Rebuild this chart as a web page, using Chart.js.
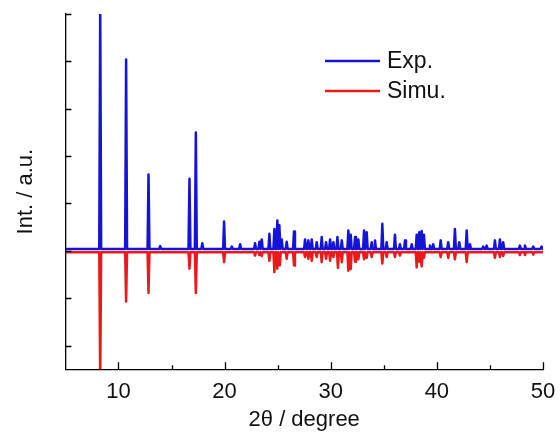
<!DOCTYPE html>
<html>
<head>
<meta charset="utf-8">
<script src="https://cdn.jsdelivr.net/npm/chart.js@4"></script>
<style>
  body { margin: 0; background: #fff; }
  canvas { display: block; }
</style>
</head>
<body>
<canvas id="chart" width="560" height="445"></canvas>
<script>
// peak positions (2theta) and heights above each baseline
const expPeakPos = [8.28, 10.72, 12.83, 13.93, 16.69, 17.29, 17.9, 19.95, 20.68, 21.46, 22.87, 23.28, 23.5, 24.22, 24.69, 24.97, 25.16, 25.38, 25.85, 26.54, 27.58, 27.89, 28.21, 28.68, 29.15, 29.56, 29.94, 30.25, 30.63, 31.04, 31.66, 31.88, 32.29, 32.6, 33.14, 33.39, 33.86, 34.17, 34.86, 35.27, 36.05, 36.52, 37.0, 37.63, 38.1, 38.34, 38.57, 38.78, 39.35, 39.66, 40.36, 41.07, 41.7, 42.11, 42.81, 43.12, 44.37, 44.69, 45.47, 45.94, 46.25, 47.82, 48.3, 49.08, 49.87];
const expPeakInt = [5.1, 4.0, 1.57, 0.06, 1.48, 2.46, 0.12, 0.58, 0.05, 0.1, 0.12, 0.15, 0.2, 0.32, 0.42, 0.6, 0.5, 0.2, 0.15, 0.37, 0.2, 0.18, 0.2, 0.14, 0.25, 0.14, 0.2, 0.14, 0.25, 0.18, 0.39, 0.3, 0.25, 0.2, 0.39, 0.35, 0.14, 0.18, 0.53, 0.14, 0.3, 0.1, 0.18, 0.1, 0.3, 0.35, 0.38, 0.3, 0.07, 0.1, 0.18, 0.14, 0.42, 0.14, 0.39, 0.1, 0.05, 0.07, 0.18, 0.2, 0.14, 0.07, 0.07, 0.05, 0.05];
const expBase = 0.04;

const simPeakPos = [8.28, 10.72, 12.83, 16.69, 17.29, 19.95, 22.87, 23.28, 23.5, 24.22, 24.69, 24.97, 25.2, 25.85, 26.54, 27.58, 27.89, 28.21, 28.68, 29.15, 29.56, 29.94, 30.25, 30.68, 31.04, 31.66, 31.88, 32.29, 32.6, 33.14, 33.39, 33.86, 34.86, 35.27, 36.05, 36.52, 38.1, 38.34, 38.57, 38.78, 40.36, 41.07, 41.7, 42.81, 45.47, 45.94, 46.25, 47.82, 48.3, 49.08];
const simPeakInt = [-2.7, -1.04, -0.86, -0.35, -0.86, -0.21, -0.07, -0.06, -0.08, -0.18, -0.42, -0.35, -0.28, -0.14, -0.28, -0.1, -0.14, -0.18, -0.1, -0.21, -0.14, -0.18, -0.1, -0.33, -0.21, -0.39, -0.36, -0.2, -0.15, -0.15, -0.12, -0.1, -0.24, -0.1, -0.1, -0.07, -0.32, -0.2, -0.3, -0.12, -0.1, -0.12, -0.15, -0.21, -0.12, -0.1, -0.08, -0.06, -0.06, -0.05];
const simBase = -0.03;

const xRange = [5, 50];
const yRange = [-2.5, 5];
const seriesLabels = ["Exp.", "Simu."];
const seriesColors = ["#1414d6", "#ea1a1a"];

const FONT = "'Liberation Sans', Arial, sans-serif";

// each peak becomes a narrow spike on the baseline
function spikes(pos, val, base) {
    const pts = [{ x: xRange[0], y: base }];
    for (let i = 0; i < pos.length; i++) {
        pts.push({ x: pos[i] - 0.09, y: base });
        pts.push({ x: pos[i], y: base + val[i] });
        pts.push({ x: pos[i] + 0.09, y: base });
    }
    pts.push({ x: xRange[1], y: base });
    return pts;
}

const inwardTicks = {
    id: "inwardTicks",
    afterDraw(chart) {
        const c = chart.ctx, a = chart.chartArea;
        const xs = chart.scales.x, ys = chart.scales.y;
        c.save();
        c.strokeStyle = "#000";
        c.lineWidth = 1.3;
        c.beginPath();
        xs.ticks.forEach(t => {
            if (t.value <= xRange[0]) return;
            const px = Math.round(xs.getPixelForValue(t.value)) + 0.5;
            const len = t.value % 10 === 0 ? 7 : 4;
            c.moveTo(px, a.bottom);
            c.lineTo(px, a.bottom - len);
        });
        ys.ticks.forEach(t => {
            if (!Number.isInteger(t.value)) return;
            const py = Math.round(ys.getPixelForValue(t.value)) + 0.5;
            c.moveTo(a.left, py);
            c.lineTo(a.left + 6, py);
        });
        c.stroke();

        // legend
        const lx = 325, ly = [61, 91];
        chart.data.datasets.forEach((ds, i) => {
            c.strokeStyle = ds.borderColor;
            c.lineWidth = 2.5;
            c.beginPath();
            c.moveTo(lx, ly[i]);
            c.lineTo(lx + 55, ly[i]);
            c.stroke();
            c.fillStyle = "#111";
            c.font = "23px " + FONT;
            c.textBaseline = "middle";
            c.fillText(ds.label, lx + 62, ly[i] + 1);
        });
        c.restore();
    }
};

const config = {
    type: "line",
    data: {
        datasets: [{
            label: seriesLabels[0],
            data: spikes(expPeakPos, expPeakInt, expBase),
            borderColor: seriesColors[0],
            borderWidth: 2.5,
            pointRadius: 0,
            borderJoinStyle: "round",
            tension: 0,
            order: 1
        }, {
            label: seriesLabels[1],
            data: spikes(simPeakPos, simPeakInt, simBase),
            borderColor: seriesColors[1],
            borderWidth: 2.5,
            pointRadius: 0,
            borderJoinStyle: "round",
            tension: 0,
            order: 2
        }]
    },
    options: {
        responsive: false,
        animation: false,
        devicePixelRatio: 1,
        layout: { padding: { top: 14, right: 17, bottom: 12, left: 13 } },
        plugins: {
            legend: { display: false },
            tooltip: { enabled: false }
        },
        scales: {
            x: {
                type: "linear",
                min: xRange[0],
                max: xRange[1],
                afterFit: s => { s.paddingRight = 0; },
                grid: { display: true, drawOnChartArea: false, drawTicks: false },
                border: { display: true, color: "#000", width: 1.3 },
                ticks: {
                    stepSize: 5,
                    autoSkip: false,
                    maxRotation: 0,
                    padding: 10,
                    color: "#111",
                    font: { family: FONT, size: 22 },
                    callback: v => (v % 10 === 0 ? v : "")
                },
                title: {
                    display: true,
                    text: "2θ / degree",
                    color: "#111",
                    font: { family: FONT, size: 22 },
                    padding: { top: -9, bottom: 0 }
                }
            },
            y: {
                min: yRange[0],
                max: yRange[1],
                grid: { display: true, drawOnChartArea: false, drawTicks: false },
                border: { display: true, color: "#000", width: 1.3 },
                ticks: { display: false, stepSize: 1 },
                title: {
                    display: true,
                    text: "Int. / a.u.",
                    color: "#111",
                    font: { family: FONT, size: 22 },
                    padding: { top: 0, bottom: 26 }
                }
            }
        }
    },
    plugins: [inwardTicks]
};

const chartLine = new Chart(document.getElementById("chart"), config);
</script>
</body>
</html>
